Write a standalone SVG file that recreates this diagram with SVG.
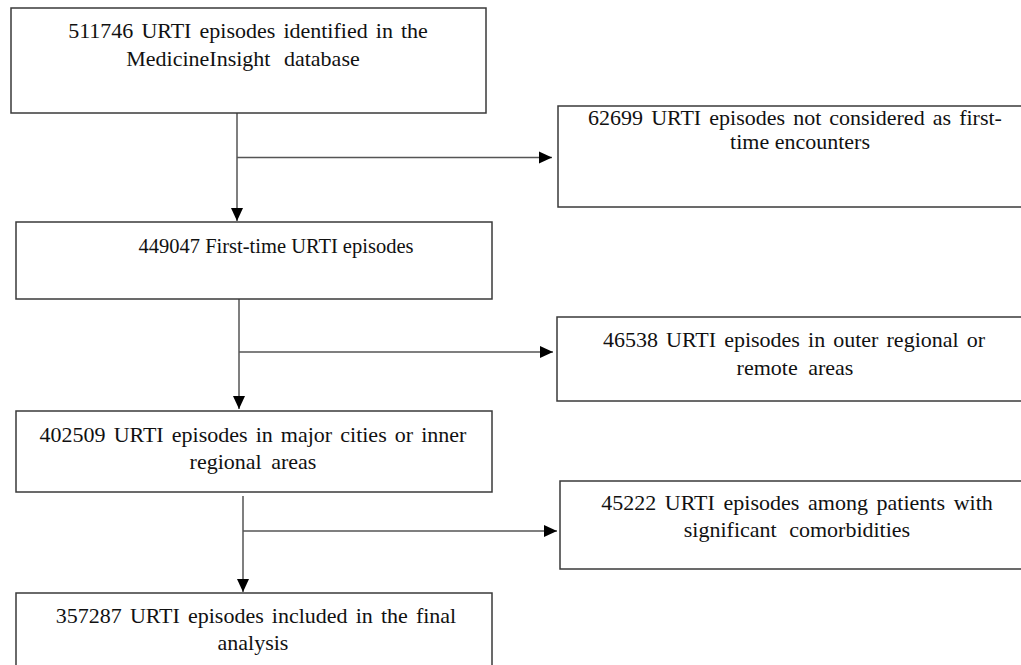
<svg xmlns="http://www.w3.org/2000/svg" width="1021" height="665" viewBox="0 0 1021 665">
<style>
.box{fill:#fff;stroke:#3a3a3a;stroke-width:1.5}
.t{font-family:"Liberation Serif","Times New Roman",serif;font-size:22px;fill:#111;text-anchor:middle;word-spacing:2.6px}
.c{fill:none;stroke:#555;stroke-width:1.5}
</style>
<defs>
<marker id="ah" markerUnits="userSpaceOnUse" markerWidth="14" markerHeight="14" viewBox="0 0 14 14" refX="13" refY="7" orient="auto">
<path d="M0,1 L13,7 L0,13 Z" fill="#000"/>
</marker>
</defs>
<rect width="1021" height="665" fill="#fff"/>
<g id="connectors">
<path class="c" d="M237,113 V221" marker-end="url(#ah)"/>
<path class="c" d="M237,157.5 H552" marker-end="url(#ah)"/>
<path class="c" d="M239,299 V409" marker-end="url(#ah)"/>
<path class="c" d="M239,352 H553" marker-end="url(#ah)"/>
<path class="c" d="M243,496 V592" marker-end="url(#ah)"/>
<path class="c" d="M243,531 H557" marker-end="url(#ah)"/>
</g>
<g id="n1">
<rect class="box" x="11" y="8" width="475" height="105"/>
<text class="t" x="248" y="38">511746 URTI episodes identified in the</text>
<text class="t" x="243" y="66" style="word-spacing:8px">MedicineInsight database</text>
</g>
<g id="n2">
<rect class="box" x="558" y="106" width="470" height="101"/>
<text class="t" x="795" y="125">62699 URTI episodes not considered as first-</text>
<text class="t" x="800" y="149" style="word-spacing:0">time encounters</text>
</g>
<g id="n3">
<rect class="box" x="16" y="222" width="476" height="77"/>
<text class="t" x="276" y="253" style="word-spacing:0;font-size:20.5px">449047 First-time URTI episodes</text>
</g>
<g id="n4">
<rect class="box" x="557" y="317" width="470" height="84"/>
<text class="t" x="794" y="347">46538 URTI episodes in outer regional or</text>
<text class="t" x="795" y="375" style="word-spacing:5px">remote areas</text>
</g>
<g id="n5">
<rect class="box" x="16" y="411" width="476" height="81"/>
<text class="t" x="253" y="442">402509 URTI episodes in major cities or inner</text>
<text class="t" x="253" y="469" style="word-spacing:4px">regional areas</text>
</g>
<g id="n6">
<rect class="box" x="560" y="481" width="468" height="88"/>
<text class="t" x="797" y="510" style="word-spacing:3.2px">45222 URTI episodes among patients with</text>
<text class="t" x="797" y="537" style="word-spacing:7px">significant comorbidities</text>
</g>
<g id="n7">
<rect class="box" x="16" y="593" width="476" height="80"/>
<text class="t" x="256" y="623">357287 URTI episodes included in the final</text>
<text class="t" x="253" y="650">analysis</text>
</g>
</svg>
